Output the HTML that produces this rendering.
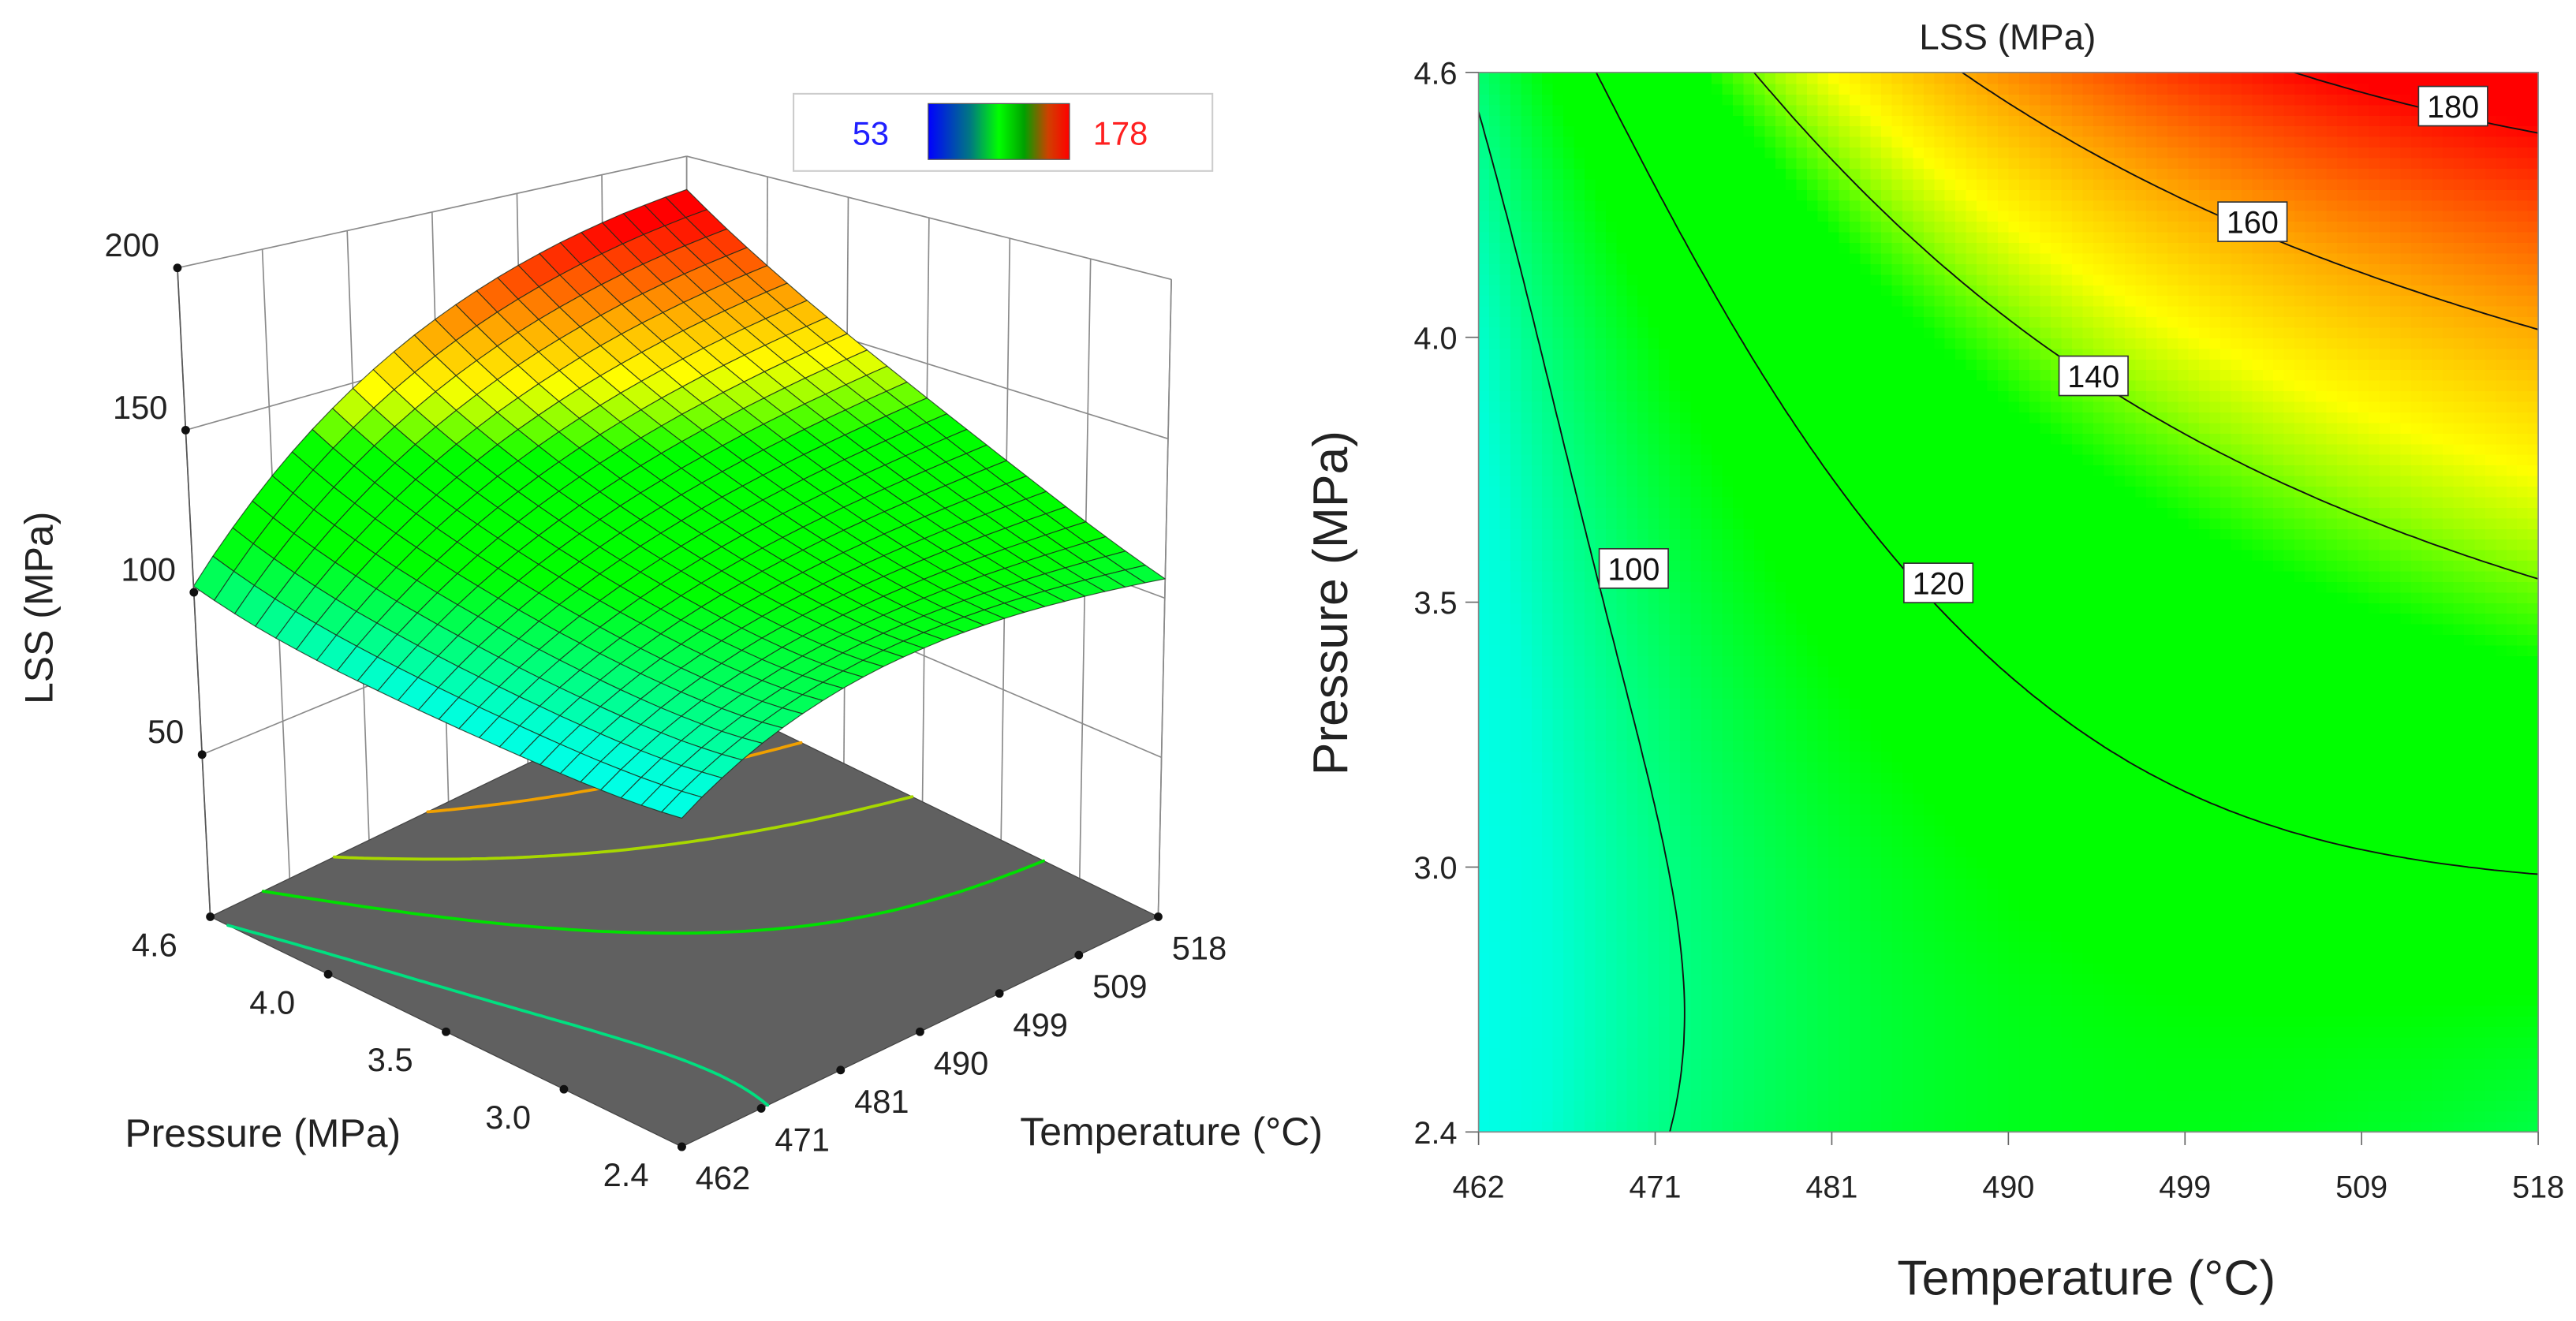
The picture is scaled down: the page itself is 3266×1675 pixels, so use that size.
<!DOCTYPE html>
<html><head><meta charset="utf-8"><style>
html,body{margin:0;padding:0;background:#fff;}
svg{display:block;font-family:"Liberation Sans",sans-serif;}
</style></head><body>
<svg id="fig" width="3266" height="1675" viewBox="0 0 1568 804" xmlns="http://www.w3.org/2000/svg">
<defs>
<linearGradient id="lgBar" x1="0" y1="0" x2="1" y2="0">
<stop offset="0" stop-color="#0000ff"/><stop offset="0.3" stop-color="#007a80"/><stop offset="0.5" stop-color="#00ff00"/><stop offset="0.68" stop-color="#00a000"/><stop offset="0.85" stop-color="#d04000"/><stop offset="1" stop-color="#ff0000"/>
</linearGradient>
<clipPath id="plotClip"><rect x="900" y="44" width="645" height="645"/></clipPath>
</defs>
<g id="left3d">
<g id="walls"></g>
<polygon id="floor" fill="#606060" stroke="#444" stroke-width="0.6"></polygon>
<g id="floorContours"></g>
<g id="surface"></g>
<g id="axes3d"></g>
<text x="0" y="0" font-size="24" text-anchor="middle" transform="translate(32,370) rotate(-90)" fill="#222">LSS (MPa)</text>
<text x="160" y="698" font-size="24" text-anchor="middle" fill="#222">Pressure (MPa)</text>
<text x="713" y="697" font-size="24" text-anchor="middle" fill="#222">Temperature (°C)</text>
<g>
<rect x="483" y="57" width="255" height="47" fill="#fff" stroke="#ccc" stroke-width="1"/>
<text x="530" y="88" font-size="20" fill="#2020ff" text-anchor="middle">53</text>
<rect x="565" y="63" width="86" height="34" fill="url(#lgBar)" stroke="#555" stroke-width="0.6"/>
<text x="682" y="88" font-size="20" fill="#ff2020" text-anchor="middle">178</text>
</g>
</g>
<g id="right2d">
<text x="1222" y="30" font-size="22" text-anchor="middle" fill="#222">LSS (MPa)</text>
<g id="heat" clip-path="url(#plotClip)" shape-rendering="crispEdges"></g>
<g id="contours" clip-path="url(#plotClip)"></g>
<g id="clabels"></g>
<rect x="900" y="44" width="645" height="645" fill="none" stroke="#888" stroke-width="0.8"/>
<g id="ticks2d"></g>
<text x="1270" y="788" font-size="30" text-anchor="middle" fill="#222">Temperature (°C)</text>
<text x="0" y="0" font-size="30" text-anchor="middle" transform="translate(820,367) rotate(-90)" fill="#222">Pressure (MPa)</text>
</g>
</svg>
<script>
// ---- data ----
const tempTicks = ["462","471","481","490","499","509","518"];
const pressTicks = ["2.4","3.0","3.5","4.0","4.6"];
const zTicks = [50,100,150,200];
// LSS (MPa) estimated at each temperature tick, one array per pressure tick
const lss_P24 = [86, 101, 107, 109, 110, 109, 107];
const lss_P30 = [87, 98.5, 108, 114, 118, 119.3, 119];
const lss_P35 = [90, 101, 115, 124, 130, 135, 138];
const lss_P40 = [94, 112, 128, 138, 146, 154, 160];
const lss_P46 = [101, 128, 150, 163.6, 173, 184, 187];
const contourLevels = [100,120,140,160,180];
const labelTemp = [470.2, 486.3, 494.5, 502.9, 513.5];
const labelPress = [3.57, 3.54, 3.97, 4.29, 4.53];
const floorLevels = [100,120,140,160];

const NS='http://www.w3.org/2000/svg';
const rows=[lss_P24,lss_P30,lss_P35,lss_P40,lss_P46];
const Tmin=462,Tmax=518,Pmin=2.4,Pmax=4.6;
// smooth quartic response surface fitted (least squares) to the grid values
function basis(t,p){const b=[];for(let d=0;d<=4;d++)for(let k=0;k<=d;k++)b.push(Math.pow(t,d-k)*Math.pow(p,k));return b;}
const coef=(function(){const n=15;const A=[];for(let i=0;i<n;i++){A.push(new Array(n+1).fill(0));}
 rows.forEach((r,j)=>{const p=j/(rows.length-1);r.forEach((v,i)=>{const t=i/(r.length-1);const b=basis(t,p);
  for(let a=0;a<n;a++){for(let c=0;c<n;c++)A[a][c]+=b[a]*b[c];A[a][n]+=b[a]*v;}});});
 for(let a=0;a<n;a++)A[a][a]+=1e-6;
 for(let k=0;k<n;k++){let m=k;for(let i=k+1;i<n;i++)if(Math.abs(A[i][k])>Math.abs(A[m][k]))m=i;const tmp=A[k];A[k]=A[m];A[m]=tmp;
  for(let i=0;i<n;i++){if(i===k)continue;const f=A[i][k]/A[k][k];for(let c=k;c<=n;c++)A[i][c]-=f*A[k][c];}}
 return A.map((r,k)=>r[n]/r[k]);})();
function val(t,p){const b=basis(t,p);let s=0;for(let i=0;i<b.length;i++)s+=b[i]*coef[i];return s;}
const cstops=[[86,0,255,235],[92,0,255,215],[100,0,255,130],[110,0,255,30],[113,0,255,0],[134,0,255,0],[142,160,255,0],[148,255,255,0],[160,255,170,0],[181,255,0,0]];
function cmap(v){if(v<=cstops[0][0])return 'rgb(0,255,235)';
 for(let i=0;i<cstops.length-1;i++){const a=cstops[i],b=cstops[i+1];if(v<=b[0]){const f=(v-a[0])/(b[0]-a[0]);
 return 'rgb('+Math.round(a[1]+(b[1]-a[1])*f)+','+Math.round(a[2]+(b[2]-a[2])*f)+','+Math.round(a[3]+(b[3]-a[3])*f)+')';}}
 return 'rgb(255,0,0)';}
function mk(tag,attrs,parent){const e=document.createElementNS(NS,tag);for(const k in attrs)e.setAttribute(k,attrs[k]);parent.appendChild(e);return e;}
function contourSegs(N,level){const g=[];for(let j=0;j<=N;j++){g.push([]);for(let i=0;i<=N;i++)g[j].push(val(i/N,j/N));}
 const segs=[];
 for(let j=0;j<N;j++)for(let i=0;i<N;i++){
  const c=[[i,j,g[j][i]],[i+1,j,g[j][i+1]],[i+1,j+1,g[j+1][i+1]],[i,j+1,g[j+1][i]]];const pts=[];
  for(let k=0;k<4;k++){const a=c[k],b=c[(k+1)%4];if((a[2]>=level)!==(b[2]>=level)){const f=(level-a[2])/(b[2]-a[2]);pts.push([(a[0]+(b[0]-a[0])*f)/N,(a[1]+(b[1]-a[1])*f)/N]);}}
  if(pts.length>=2)segs.push([pts[0],pts[1]]);if(pts.length==4)segs.push([pts[2],pts[3]]);}
 return segs;}

// ---- contour plot ----
const X0=900,Y0=689,W=645,H=645;
const xs=t=>X0+t*W, ys=p=>Y0-p*H;
const heat=document.getElementById('heat');
const NH=100;
for(let j=0;j<NH;j++)for(let i=0;i<NH;i++){
 const r=mk('rect',{x:xs(i/NH).toFixed(2),y:ys((j+1)/NH).toFixed(2),width:(W/NH+0.6).toFixed(2),height:(H/NH+0.6).toFixed(2),fill:cmap(val((i+0.5)/NH,(j+0.5)/NH))},heat);
 
 
}
const cg=document.getElementById('contours');
contourLevels.forEach(L=>{let d='';contourSegs(120,L).forEach(s=>{d+='M'+xs(s[0][0]).toFixed(1)+' '+ys(s[0][1]).toFixed(1)+'L'+xs(s[1][0]).toFixed(1)+' '+ys(s[1][1]).toFixed(1);});
 const p=mk('path',{d:d,fill:'none',stroke:'#111','stroke-width':0.9,'stroke-linecap':'round'},cg);
 
 
});
const clg=document.getElementById('clabels');
contourLevels.forEach((L,k)=>{const x=xs((labelTemp[k]-Tmin)/(Tmax-Tmin)),y=ys((labelPress[k]-Pmin)/(Pmax-Pmin));
 const g=mk('g',{},clg);
 
 
 mk('rect',{x:x-21,y:y-12,width:42,height:24,fill:'#fff',stroke:'#333','stroke-width':0.8},g);
 const t=mk('text',{x:x,y:y+7,'font-size':19,'text-anchor':'middle',fill:'#111'},g);t.textContent=String(L);
});
const tg=document.getElementById('ticks2d');
tempTicks.forEach((lab,i)=>{const x=xs(i/(tempTicks.length-1));
 mk('line',{x1:x,y1:689,x2:x,y2:697,stroke:'#666','stroke-width':0.8},tg);
 const t=mk('text',{x:x,y:729,'font-size':19,'text-anchor':'middle',fill:'#222'},tg);t.textContent=lab;
 
 
});
pressTicks.forEach((lab,i)=>{const y=ys(i/(pressTicks.length-1));
 mk('line',{x1:892,y1:y,x2:900,y2:y,stroke:'#666','stroke-width':0.8},tg);
 const t=mk('text',{x:887,y:y+7,'font-size':19,'text-anchor':'end',fill:'#222'},tg);t.textContent=lab;
 
 
});

// ---- 3D surface ----
const FL={F:[415,698],R:[705,558],L:[128,558],B:[418,418]};
const TP={F:[415,238],R:[713,170],L:[108,163],B:[418,95]};
function bil(c,t,p){const a=[0,1].map(k=>c.F[k]*(1-t)*(1-p)+c.R[k]*t*(1-p)+c.L[k]*(1-t)*p+c.B[k]*t*p);return a;}
function proj(t,p,z){const b=bil(FL,t,p),u=bil(TP,t,p),f=z/200;return [b[0]+(u[0]-b[0])*f,b[1]+(u[1]-b[1])*f];}
const P2=a=>a[0].toFixed(1)+','+a[1].toFixed(1);
const walls=document.getElementById('walls');
function wl(a,b){mk('line',{x1:a[0],y1:a[1],x2:b[0],y2:b[1],stroke:'#8a8a8a','stroke-width':0.8},walls);}
for(let i=0;i<=6;i++){wl(proj(i/6,1,0),proj(i/6,1,200));wl(proj(1,i/6,0),proj(1,i/6,200));}
zTicks.forEach(z=>{wl(proj(0,1,z),proj(1,1,z));wl(proj(1,1,z),proj(1,0,z));});
wl(proj(1,0,0),proj(1,0,200));
document.getElementById('floor').setAttribute('points',[proj(0,0,0),proj(1,0,0),proj(1,1,0),proj(0,1,0)].map(P2).join(' '));
const fcg=document.getElementById('floorContours');
const floorCol={100:'#00e080',120:'#00e000',140:'#a8d800',160:'#f0a000'};
floorLevels.forEach(L=>{let d='';contourSegs(60,L).forEach(s=>{d+='M'+P2(proj(s[0][0],s[0][1],0))+'L'+P2(proj(s[1][0],s[1][1],0));});
 const p=mk('path',{d:d,fill:'none',stroke:floorCol[L],'stroke-width':1.8,'stroke-linecap':'round'},fcg);
 
 
});
const sg=document.getElementById('surface');
const M=24;const quads=[];
for(let j=0;j<M;j++)for(let i=0;i<M;i++)quads.push([i,j]);
quads.sort((a,b)=>(b[0]+b[1])-(a[0]+a[1]));
quads.forEach(q=>{const i=q[0],j=q[1];const c=[[i,j],[i+1,j],[i+1,j+1],[i,j+1]].map(v=>[v[0]/M,v[1]/M]);
 const pts=c.map(v=>proj(v[0],v[1],val(v[0],v[1])));
 const pg=mk('polygon',{points:pts.map(P2).join(' '),fill:cmap(val((i+0.5)/M,(j+0.5)/M)),stroke:'#1a2a1a','stroke-width':0.55,'stroke-opacity':0.8,'stroke-linejoin':'round'},sg);
 
 
});
const ax=document.getElementById('axes3d');
mk('line',{x1:proj(0,1,0)[0],y1:proj(0,1,0)[1],x2:proj(0,1,200)[0],y2:proj(0,1,200)[1],stroke:'#555','stroke-width':0.8},ax);
zTicks.forEach(z=>{const q=proj(0,1,z);mk('circle',{cx:q[0],cy:q[1],r:2.6,fill:'#111'},ax);
 const t=mk('text',{x:q[0]-11,y:q[1]-7,'font-size':20,'text-anchor':'end',fill:'#222'},ax);t.textContent=String(z);
 
 
});
pressTicks.forEach((lab,i)=>{const q=proj(0,i/(pressTicks.length-1),0);mk('circle',{cx:q[0],cy:q[1],r:2.6,fill:'#111'},ax);
 const t=mk('text',{x:q[0]-34,y:q[1]+24,'font-size':20,'text-anchor':'middle',fill:'#222'},ax);t.textContent=lab;
 
 
});
tempTicks.forEach((lab,i)=>{const q=proj(i/(tempTicks.length-1),0,0);mk('circle',{cx:q[0],cy:q[1],r:2.6,fill:'#111'},ax);
 const t=mk('text',{x:q[0]+25,y:q[1]+26,'font-size':20,'text-anchor':'middle',fill:'#222'},ax);t.textContent=lab;
 
 
});
</script>
</body></html>
